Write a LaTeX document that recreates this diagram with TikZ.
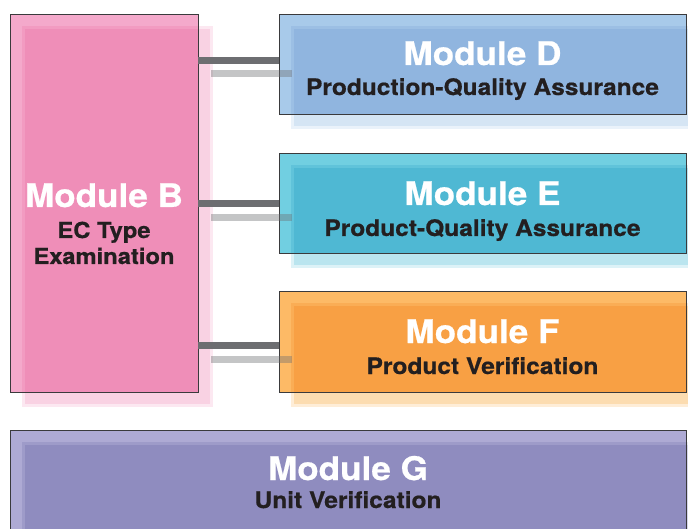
\documentclass[tikz,border=0pt]{standalone}
\usepackage{fontspec}
\newfontfamily\hvb[FakeStretch=1.08, BoldFeatures={FakeBold=0.6}]{TeX Gyre Heros}
\usetikzlibrary{calc}
\definecolor{bordergray}{HTML}{3A3A3C}
\definecolor{textdark}{HTML}{231F20}
\definecolor{connc}{HTML}{6D6E71}
\definecolor{pinkO}{HTML}{F4A9CB}
\definecolor{pinkI}{HTML}{EF8EB8}
\definecolor{pinkS}{HTML}{F9D2E3}
\definecolor{blueO}{HTML}{A8CAEA}
\definecolor{blueI}{HTML}{90B5DF}
\definecolor{blueS}{HTML}{D5E5F4}
\definecolor{cyanO}{HTML}{71CFE1}
\definecolor{cyanI}{HTML}{4FB8D3}
\definecolor{cyanS}{HTML}{BAE5EF}
\definecolor{orangeO}{HTML}{FDBA66}
\definecolor{orangeI}{HTML}{F8A044}
\definecolor{orangeS}{HTML}{FCDCB0}
\definecolor{purpleO}{HTML}{AEAAD4}
\definecolor{purpleI}{HTML}{8F8CBF}
\definecolor{purpleS}{HTML}{D6D4EA}
\newcommand{\modbox}[8]{%
  \fill[#8, draw={#8!50!white}, line width=3pt] ({#2+13},{#3+13}) rectangle ({#4+13},{#5+13});
  \fill[#6] (#2,#3) rectangle (#4,#5);
  \begin{scope}
    \clip (#2,#3) rectangle (#4,#5);
    \fill[#7, draw={#7!50!#6}, line width=3pt] ({#2+13},{#3+13}) rectangle ({#4+13},{#5+13});
  \end{scope}
  \node[modframe, minimum width={#4-#2}, minimum height={#5-#3}] (#1) at ({(#2+#4)/2},{(#3+#5)/2}) {};%
}
\begin{document}
\begin{tikzpicture}[x=1pt,y=-1pt,
  modframe/.style={rectangle, draw=bordergray, line width=1pt, inner sep=0pt, outer sep=0pt},
  title/.style={font=\hvb\bfseries\fontsize{32.5}{36}\selectfont, text=white, anchor=base, inner sep=0pt},
  sub/.style={font=\hvb\bfseries\fontsize{22.7}{26}\selectfont, text=textdark, anchor=base, inner sep=0pt},
  subB/.style={font=\hvb\bfseries\fontsize{22}{26}\selectfont, text=textdark, anchor=base, inner sep=0pt},
  conn/.style={draw=connc, line width=7pt},
  connsh/.style={draw=connc, line width=7pt, opacity=0.4}]
\clip (0,0) rectangle (688,529);
\fill[white] (0,0) rectangle (688,529);
% boxes
\modbox{B}{10}{15}{198}{392}{pinkO}{pinkI}{pinkS}
\modbox{D}{279}{15}{686}{115}{blueO}{blueI}{blueS}
\modbox{E}{279}{154}{686}{254}{cyanO}{cyanI}{cyanS}
\modbox{F}{279}{292}{686}{392}{orangeO}{orangeI}{orangeS}
\modbox{G}{10}{430}{686}{560}{purpleO}{purpleI}{purpleS}
% connector anchors
\coordinate (dIn) at ($(D.west)+(0,-4.5)$);
\coordinate (eIn) at (E.west);
\coordinate (fIn) at ($(F.west)+(0,3.5)$);
% connector shadows
\draw[connsh] ($(B.east |- dIn)+(13,13.5)$) -- ($(dIn)+(13,13.5)$);
\draw[connsh] ($(B.east |- eIn)+(13,13.5)$) -- ($(eIn)+(13,13.5)$);
\draw[connsh] ($(B.east |- fIn)+(13,13.5)$) -- ($(fIn)+(13,13.5)$);
% connectors
\draw[conn] (B.east |- dIn) -- (dIn);
\draw[conn] (B.east |- eIn) -- (eIn);
\draw[conn] (B.east |- fIn) -- (fIn);
% texts
\node[title] (Bt) at (104,207) {Module B};
\node[subB] (Bs1) at (104,238) {EC Type};
\node[subB] (Bs2) at (104,264) {Examination};
\node[title] (Dt) at (482.5,65) {Module D};
\node[sub] (Ds) at (482.5,95) {Production-Quality Assurance};
\node[title] (Et) at (482.5,205) {Module E};
\node[sub] (Es) at (482.5,236) {Product-Quality Assurance};
\node[title] (Ft) at (482.5,343) {Module F};
\node[sub] (Fs) at (482.5,374) {Product Verification};
\node[title] (Gt) at (348,480) {Module G};
\node[sub] (Gs) at (348,508) {Unit Verification};
\end{tikzpicture}
\end{document}
